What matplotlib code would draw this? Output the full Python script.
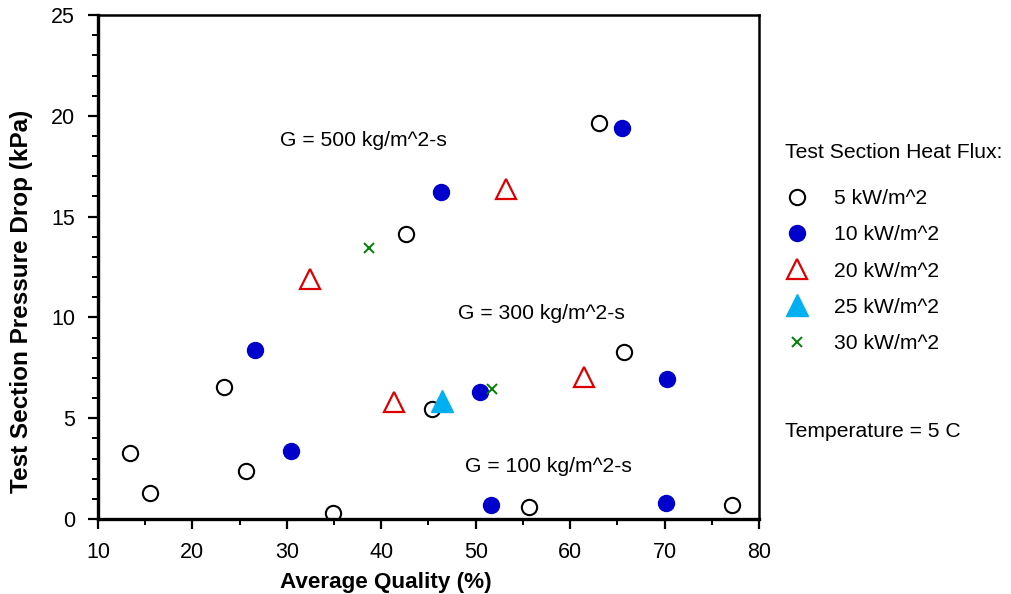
import matplotlib
matplotlib.use("Agg")
import matplotlib.pyplot as plt
from matplotlib.ticker import MultipleLocator

plt.rcParams['font.family'] = ['Liberation Sans', 'DejaVu Sans']

# 5 kW/m^2 (open circles)
q5_x = [13.4, 15.5, 23.3, 25.7, 34.9, 45.4, 42.6, 63.1, 65.7, 55.6, 77.1]
q5_y = [3.27, 1.29, 6.54, 2.38, 0.30, 5.45, 14.13, 19.63, 8.28, 0.60, 0.71]
# 10 kW/m^2 (filled blue circles)
q10_x = [26.6, 30.4, 46.3, 65.5, 50.5, 70.3, 51.6, 70.2]
q10_y = [8.38, 3.37, 16.2, 19.4, 6.31, 6.96, 0.69, 0.81]
# 20 kW/m^2 (open red triangles)
q20_x = [32.5, 41.3, 53.2, 61.5]
q20_y = [11.9, 5.82, 16.36, 7.03]
# 25 kW/m^2 (filled cyan triangle)
q25_x = [46.4]
q25_y = [5.85]
# 30 kW/m^2 (green x)
q30_x = [38.7, 51.7]
q30_y = [13.44, 6.43]

labels = ["5 kW/m^2", "10 kW/m^2", "20 kW/m^2", "25 kW/m^2", "30 kW/m^2"]

fig = plt.figure(figsize=(10.11, 5.94), dpi=100)
ax = fig.add_axes([0.0969, 0.1263, 0.6538, 0.8484])

ax.plot(q5_x, q5_y, 'o', ls='none', ms=11, mfc='white', mec='black', mew=1.5, label=labels[0])
ax.plot(q10_x, q10_y, 'o', ls='none', ms=11.5, mfc='#0000cc', mec='#0000cc', label=labels[1])
ax.plot(q20_x, q20_y, '^', ls='none', ms=14, mfc='white', mec='#dd0000', mew=1.6, label=labels[2])
ax.plot(q25_x, q25_y, '^', ls='none', ms=16, mfc='#00b0f0', mec='#00b0f0', label=labels[3])
ax.plot(q30_x, q30_y, 'x', ls='none', ms=7, mec='#008000', mew=1.4, label=labels[4])

ax.set_xlim(10, 80)
ax.set_ylim(0, 25)
ax.xaxis.set_major_locator(MultipleLocator(10))
ax.xaxis.set_minor_locator(MultipleLocator(5))
ax.yaxis.set_major_locator(MultipleLocator(5))
ax.yaxis.set_minor_locator(MultipleLocator(1))
ax.tick_params(which='major', direction='out', length=7.5, width=1.6, labelsize=15.5, pad=9)
ax.tick_params(which='minor', direction='out', length=4.3, width=1.4)
ax.tick_params(top=False, right=False, which='both')

for s in ['left', 'bottom']:
    ax.spines[s].set_linewidth(2.4)
for s in ['top', 'right']:
    ax.spines[s].set_linewidth(1.8)

ax.set_xlabel("Average Quality (%)", fontsize=16.2, fontweight='bold')
ax.set_ylabel("Test Section Pressure Drop (kPa)", fontsize=17.5, fontweight='bold')
ax.xaxis.set_label_coords(0.436, -0.105)
ax.yaxis.set_label_coords(-0.098, 0.432)

ax.text(29.3, 18.8, "G = 500 kg/m^2-s", fontsize=15.2, va='center')
ax.text(48.1, 10.2, "G = 300 kg/m^2-s", fontsize=15.2, va='center')
ax.text(48.9, 2.58, "G = 100 kg/m^2-s", fontsize=15.2, va='center')

# legend title and entries
fig.text(0.7765, 1 - 153 / 594, "Test Section Heat Flux:", fontsize=15.2, va='center')
leg = ax.legend(loc='upper left', bbox_to_anchor=(0.7765, 0.682), bbox_transform=fig.transFigure,
                frameon=False, fontsize=15.2, labelspacing=0.82,
                handlelength=1.15, handletextpad=1.18, borderpad=0, borderaxespad=0)

fig.text(0.7765, 0.273, "Temperature = 5 C", fontsize=15.2, va='center')

plt.savefig("out.png", dpi=100)
